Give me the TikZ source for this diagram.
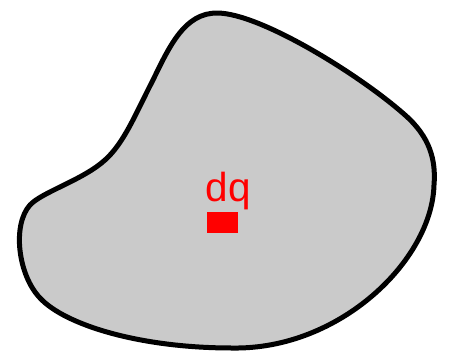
\documentclass[tikz,border=0pt]{standalone}
\usepackage{fontspec}
\setmainfont{Liberation Sans}
\definecolor{blobgray}{HTML}{CACACA}
\tikzset{
  blob/.style={draw=black, fill=blobgray, line width=5pt, line join=round},
  charge/.style={fill=red, draw=none},
  lbl/.style={text=red, inner sep=0pt, anchor=base west, font=\fontsize{40.5}{42}\selectfont}
}
\begin{document}
\begin{tikzpicture}[x=1pt,y=-1pt]
\useasboundingbox (0,0) rectangle (452,361);
\draw[blob] (217,13)
  .. controls (260,13) and (360,75) .. (405,115)
  .. controls (430,137) and (436,160) .. (434,185)
  .. controls (432,260) and (340,350) .. (232,348)
  .. controls (140,348) and (65,325) .. (40,298)
  .. controls (18,275) and (12,225) .. (30,205)
  .. controls (42,192) and (83,180) .. (105,160)
  .. controls (124,143) and (135,115) .. (153,80)
  .. controls (170,45) and (185,13) .. (217,13) -- cycle;
\fill[charge] (207,212) rectangle (238,232.5) node[coordinate] (dqbox) {};
\node[lbl] (dq) at (205.3,201.7) {dq};
\end{tikzpicture}
\end{document}
